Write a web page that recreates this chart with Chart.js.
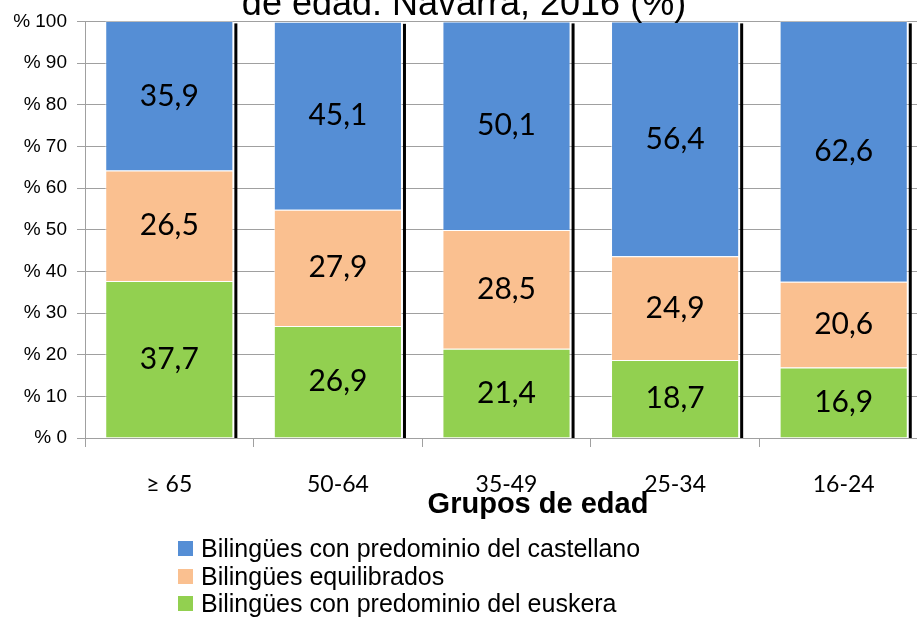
<!DOCTYPE html>
<html>
<head>
<meta charset="utf-8">
<script src="https://cdn.jsdelivr.net/npm/chart.js@4/dist/chart.umd.min.js"></script>
<style>
  body { margin: 0; background: #fff; }
  #wrap { position: relative; width: 917px; height: 617px; overflow: hidden; }
  #chart { position: absolute; left: 0; top: 0; }
  #legend { position: absolute; left: 178px; top: 535px; font-family: "Liberation Sans", Arial, sans-serif; font-size: 25px; color: #000; }
  .row { display: flex; align-items: center; height: 27.5px; white-space: nowrap; }
  .box { width: 15px; height: 15px; margin-right: 8px; }
</style>
</head>
<body>
<div id="wrap">
  <!-- the reference is cropped on the right, so the canvas runs past the window -->
  <canvas id="chart" width="928" height="617"></canvas>
  <div id="legend"></div>
</div>
<script>
// data
const titleText = "de edad. Navarra, 2016 (%)";
const axisTitle = "Grupos de edad";
const categories = ["≥ 65", "50-64", "35-49", "25-34", "16-24"];
const euskera = [37.7, 26.9, 21.4, 18.7, 16.9];
const equilibrados = [26.5, 27.9, 28.5, 24.9, 20.6];
const castellano = [35.9, 45.1, 50.1, 56.4, 62.6];
const seriesNames = [
    "Bilingües con predominio del euskera",
    "Bilingües equilibrados",
    "Bilingües con predominio del castellano"
];
const seriesColors = ["#92d050", "#fac090", "#558ed5"];

const fmt = v => v.toFixed(1).replace(".", ",");

// black shadow on right side of each bar, value labels, titles
const extras = {
    id: "extras",
    afterDatasetsDraw(chart) {
        const ctx = chart.ctx;
        const area = chart.chartArea;
        const y0 = chart.scales.y.getPixelForValue(0);
        const top = chart.getDatasetMeta(chart.data.datasets.length - 1);
        ctx.save();
        ctx.fillStyle = "#000";
        top.data.forEach(el => {
            const right = el.x + el.width / 2;
            const yTop = Math.max(el.y, area.top) + 2;
            ctx.fillRect(right + 1, yTop, 3, y0 - yTop);
        });
        ctx.font = '30px "Lato", sans-serif';
        ctx.textAlign = "center";
        ctx.textBaseline = "middle";
        chart.data.datasets.forEach((ds, i) => {
            chart.getDatasetMeta(i).data.forEach((el, j) => {
                const yc = (Math.max(el.y, area.top) + el.base) / 2;
                ctx.fillText(fmt(ds.data[j]), el.x, yc);
            });
        });
        // x axis title sits right of centre in the original
        ctx.font = 'bold 29px "Liberation Sans", Arial, sans-serif';
        ctx.fillText(axisTitle, 538, 505);
        ctx.font = '36px "Liberation Sans", Arial, sans-serif';
        ctx.textBaseline = "alphabetic";
        ctx.fillText(titleText, 464, 15);
        ctx.restore();
    }
};

const ctx = document.getElementById("chart").getContext("2d");
const datasets = [euskera, equilibrados, castellano].map((d, i) => ({
    label: seriesNames[i],
    data: d,
    backgroundColor: seriesColors[i],
    borderColor: "rgba(255,255,255,0.55)",
    borderWidth: 1,
    barPercentage: 0.76,
    categoryPercentage: 1
}));

new Chart(ctx, {
    type: "bar",
    data: { labels: categories, datasets: datasets },
    options: {
        responsive: false,
        animation: false,
        layout: { padding: { top: 21, right: 0, bottom: 99, left: 0 } },
        plugins: {
            legend: { display: false },
            tooltip: { enabled: false }
        },
        scales: {
            x: {
                stacked: true,
                afterFit: s => { s.height = 80; },
                grid: { drawOnChartArea: false, color: "#a0a0a0", tickLength: 9 },
                border: { color: "#a0a0a0" },
                ticks: {
                    color: "#000",
                    padding: 24,
                    maxRotation: 0,
                    autoSkip: false,
                    font: { family: "Lato", size: 23 }
                }
            },
            y: {
                stacked: true,
                min: 0,
                max: 100,
                afterFit: s => { s.width = 85; },
                grid: { color: "#a0a0a0", tickLength: 8 },
                border: { color: "#a0a0a0" },
                ticks: {
                    stepSize: 10,
                    color: "#000",
                    padding: 10,
                    callback: v => "% " + v,
                    font: { family: "Liberation Sans", size: 19 }
                }
            }
        }
    },
    plugins: [extras]
});

// legend, castellano first as in the picture
const legend = document.getElementById("legend");
for (let i = seriesNames.length - 1; i >= 0; i--) {
    const row = document.createElement("div");
    row.className = "row";
    row.innerHTML = `<span class="box" style="background:${seriesColors[i]}"></span><span>${seriesNames[i]}</span>`;
    legend.appendChild(row);
}
</script>
</body>
</html>
